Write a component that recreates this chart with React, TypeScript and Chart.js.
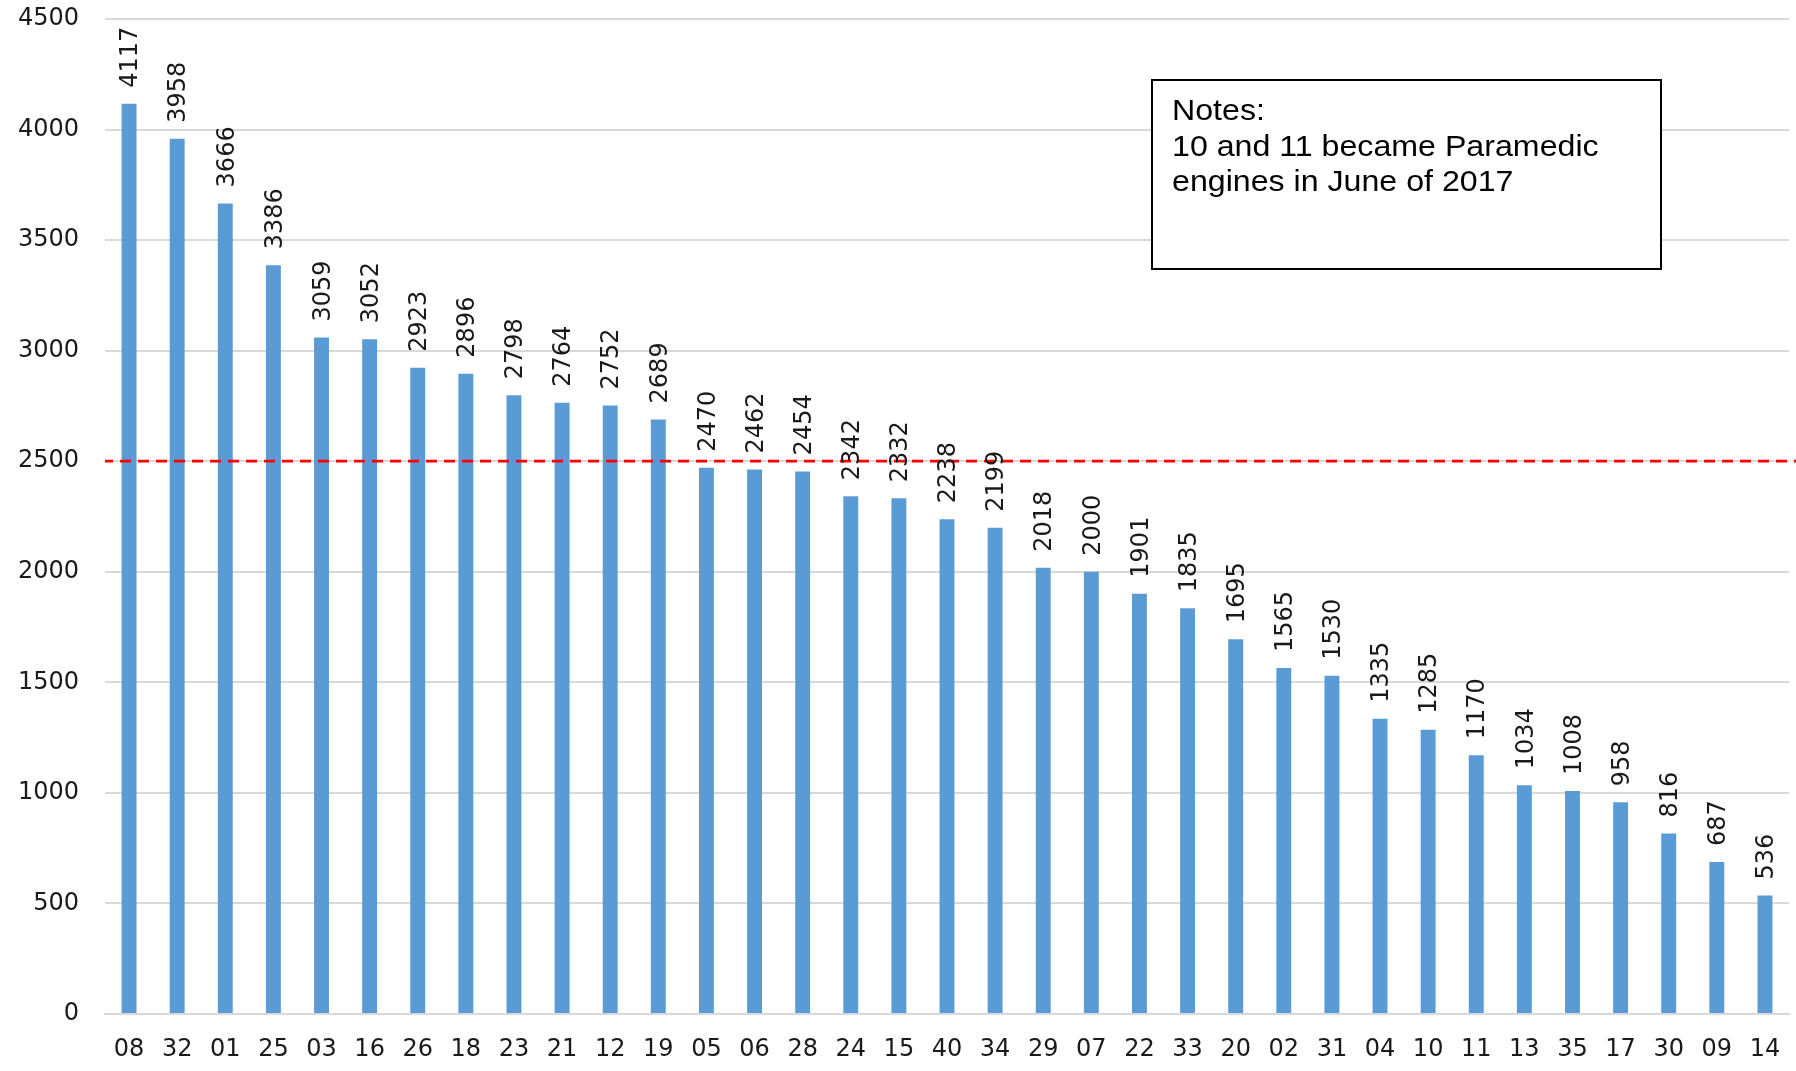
import React, { useEffect, useRef } from "react";
import { Chart, registerables } from "chart.js";

Chart.register(...registerables);

const categories = ["08","32","01","25","03","16","26","18","23","21","12","19","05","06","28","24","15","40","34","29","07","22","33","20","02","31","04","10","11","13","35","17","30","09","14"];
const values = [4117,3958,3666,3386,3059,3052,2923,2896,2798,2764,2752,2689,2470,2462,2454,2342,2332,2238,2199,2018,2000,1901,1835,1695,1565,1530,1335,1285,1170,1034,1008,958,816,687,536];
const threshold = 2500;
const noteLines = ["Notes:", "10 and 11 became Paramedic", "engines in June of 2017"];

const W = 1796;
const H = 1071;
const TICK_FONT = { family: "'DejaVu Sans', sans-serif", size: 24 };

export default function App() {
  const ref = useRef<HTMLCanvasElement | null>(null);

  useEffect(() => {
    const canvas = ref.current;
    if (!canvas) return;

    const overlay = {
      id: "overlay",
      afterDatasetsDraw(chart: any) {
        const ctx = chart.ctx;
        const y = chart.scales.y;
        const x = chart.scales.x;
        const area = chart.chartArea;
        // threshold line
        const ty = y.getPixelForValue(threshold);
        ctx.save();
        ctx.strokeStyle = "#FF0000";
        ctx.lineWidth = 2.8;
        ctx.setLineDash([11, 7]);
        ctx.lineDashOffset = 3;
        ctx.beginPath();
        ctx.moveTo(area.left, ty);
        ctx.lineTo(chart.width, ty);
        ctx.stroke();
        ctx.restore();

        // value labels
        ctx.save();
        ctx.fillStyle = "#1a1a1a";
        ctx.font = `${TICK_FONT.size}px ${TICK_FONT.family}`;
        ctx.textAlign = "left";
        ctx.textBaseline = "middle";
        values.forEach((v, i) => {
          const px = x.getPixelForValue(i);
          const py = y.getPixelForValue(v);
          ctx.save();
          ctx.translate(px + 2, py - 16);
          ctx.rotate(-Math.PI / 2);
          ctx.fillText(String(v), 0, 0);
          ctx.restore();
        });
        ctx.restore();

        // notes box
        ctx.save();
        ctx.fillStyle = "#ffffff";
        ctx.fillRect(1152, 80, 509, 189);
        ctx.strokeStyle = "#000000";
        ctx.lineWidth = 2;
        ctx.strokeRect(1152, 80, 509, 189);
        ctx.fillStyle = "#000000";
        ctx.font = "29.5px 'Liberation Sans', Arial, sans-serif";
        ctx.textAlign = "left";
        ctx.textBaseline = "alphabetic";
        noteLines.forEach((t, i) => {
          ctx.save();
          ctx.translate(1172, 120 + i * 35.5);
          ctx.scale(1.09, 1);
          ctx.fillText(t, 0, 0);
          ctx.restore();
        });
        ctx.restore();
      },
    };

    const chart = new Chart(canvas, {
      type: "bar",
      data: {
        labels: categories,
        datasets: [
          {
            data: values,
            backgroundColor: "#5B9BD5",
            barPercentage: 0.31,
            categoryPercentage: 1,
          },
        ],
      },
      options: {
        responsive: false,
        animation: false,
        layout: { padding: { top: 19, right: 7, bottom: 0, left: 0 } },
        plugins: {
          legend: { display: false },
          tooltip: { enabled: false },
          title: { display: false },
        },
        scales: {
          x: {
            grid: { display: false, drawTicks: false },
            border: { display: true, color: "#D9D9D9", width: 2 },
            ticks: { font: TICK_FONT, color: "#1a1a1a", padding: 21, maxRotation: 0, autoSkip: false },
            afterFit: (s: any) => { s.height = 57; s.paddingLeft = 0; s.paddingRight = 0; },
          },
          y: {
            min: 0,
            max: 4500,
            grid: { color: "#D9D9D9", lineWidth: 2, drawTicks: false },
            border: { display: false },
            ticks: {
              stepSize: 500,
              font: TICK_FONT,
              color: "#1a1a1a",
              padding: 26,
              callback: (v: any) => String(v),
            },
            afterFit: (s: any) => { s.width = 105; s.paddingTop = 0; s.paddingBottom = 0; },
          },
        },
      },
      plugins: [overlay],
    });

    return () => chart.destroy();
  }, []);

  return (
    <div style={{ position: "absolute", left: 0, top: 0, width: W, height: H, background: "#fff" }}>
      <canvas ref={ref} width={W} height={H} style={{ display: "block" }} />
    </div>
  );
}
